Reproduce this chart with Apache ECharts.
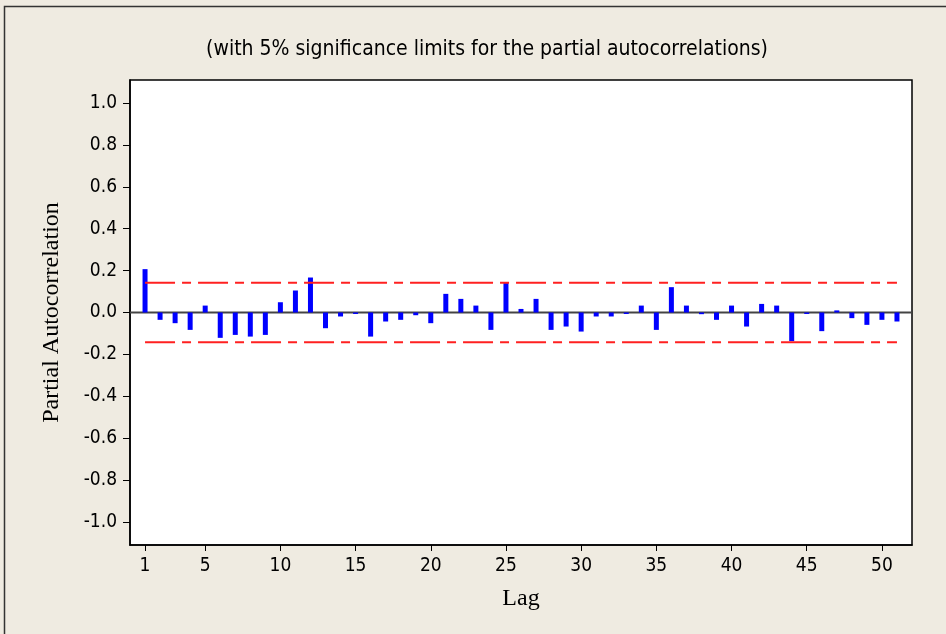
<!DOCTYPE html>
<html><head><meta charset="utf-8">
<script src="https://cdn.jsdelivr.net/npm/echarts@6/dist/echarts.min.js"></script>
<style>html,body{margin:0;padding:0;background:#efebe1}#c{width:946px;height:634px}</style>
</head><body><div id="c"></div>
<script>
const lags = [1,2,3,4,5,6,7,8,9,10,11,12,13,14,15,16,17,18,19,20,21,22,23,24,25,26,27,28,29,30,31,32,33,34,35,36,37,38,39,40,41,42,43,44,45,46,47,48,49,50,51];
const pacf = [0.207,-0.035,-0.051,-0.083,0.033,-0.121,-0.107,-0.115,-0.107,0.049,0.105,0.167,-0.075,
  -0.019,-0.007,-0.115,-0.043,-0.035,-0.013,-0.051,0.089,0.065,0.033,-0.083,0.145,
  0.017,0.065,-0.083,-0.067,-0.091,-0.019,-0.019,-0.007,0.033,-0.083,0.121,0.033,-0.008,
  -0.035,0.033,-0.067,0.041,0.033,-0.137,-0.007,-0.089,0.010,-0.027,-0.059,-0.035,-0.043];
const limit = 0.142;
const xTicks = [1,5,10,15,20,25,30,35,40,45,50];
const yTicks = [-1.0,-0.8,-0.6,-0.4,-0.2,0.0,0.2,0.4,0.6,0.8,1.0];
const title = '(with 5% significance limits for the partial autocorrelations)';

const chart = echarts.init(document.getElementById('c'));
const sansFont = 'DejaVu Sans Condensed, DejaVu Sans';
chart.setOption({
  backgroundColor: '#efebe1',
  animation: false,
  title: { text: title, left: 482, top: 34, textAlign: 'center',
    textStyle: { fontFamily: sansFont, fontSize: 21, fontWeight: 'normal', color: '#000' } },
  graphic: [{ type: 'rect', shape: { x: 4.5, y: 6.5, width: 1000, height: 1000 },
    style: { fill: 'none', stroke: '#333', lineWidth: 1.5 }, z: -1 }],
  grid: { left: 130, right: 34, top: 80, bottom: 89, show: true, backgroundColor: '#fff',
    borderColor: '#000', borderWidth: 1.5 },
  xAxis: { type: 'value', min: 0, max: 52,
    name: 'Lag', nameLocation: 'middle', nameGap: 42,
    nameTextStyle: { fontFamily: 'Liberation Serif', fontSize: 24, color: '#000' },
    axisLine: { onZero: false, lineStyle: { color: '#000', width: 1.5 } },
    axisTick: { customValues: xTicks, length: 6, lineStyle: { color: '#000' } },
    axisLabel: { customValues: xTicks, fontFamily: sansFont, fontSize: 19, color: '#000', margin: 12 },
    splitLine: { show: false } },
  yAxis: { type: 'value', min: -1.11, max: 1.11,
    name: 'Partial Autocorrelation', nameLocation: 'middle', nameGap: 66,
    nameTextStyle: { fontFamily: 'Liberation Serif', fontSize: 24, color: '#000' },
    axisLine: { show: true, onZero: false, lineStyle: { color: '#000', width: 1.5 } },
    axisTick: { show: true, customValues: yTicks, length: 7, lineStyle: { color: '#000' } },
    axisLabel: { customValues: yTicks, fontFamily: sansFont, fontSize: 19, color: '#000', margin: 13,
      formatter: v => v.toFixed(1) },
    splitLine: { show: false } },
  series: [
    { type: 'line', data: [[0, 0], [52, 0]], symbol: 'none', silent: true,
      lineStyle: { color: '#444', width: 2 }, z: 2 },
    { type: 'bar', data: lags.map((l, i) => [l, pacf[i]]), barWidth: 5,
      itemStyle: { color: '#0000ff' }, z: 3 },
    { type: 'line', data: [[lags[0], limit], [lags[lags.length-1], limit]], symbol: 'none',
      lineStyle: { color: '#ff2020', width: 2, type: [30, 7, 9, 7] }, z: 4 },
    { type: 'line', data: [[lags[0], -limit], [lags[lags.length-1], -limit]], symbol: 'none',
      lineStyle: { color: '#ff2020', width: 2, type: [30, 7, 9, 7] }, z: 4 }
  ]
});
</script></body></html>
